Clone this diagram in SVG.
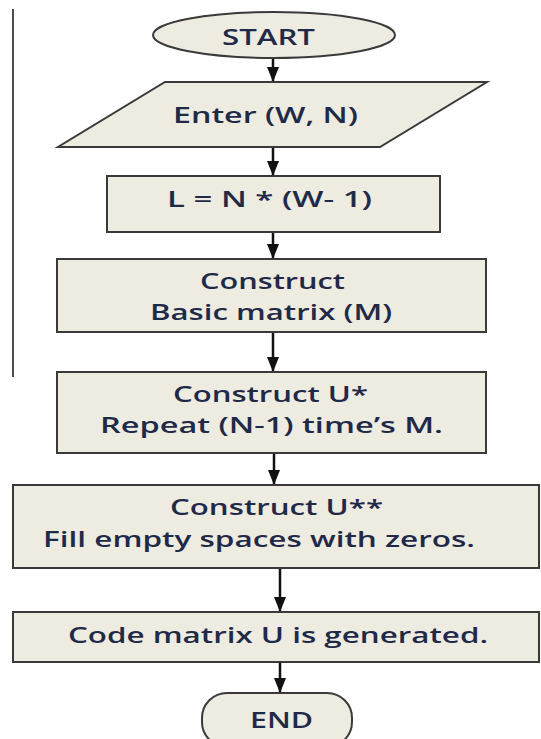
<svg xmlns="http://www.w3.org/2000/svg" width="541" height="739" viewBox="0 0 541 739">
<style>
.shape{fill:#eeece1;stroke:#3a3a3a;stroke-width:2}
.lbl{font-family:"Open Sans","Liberation Sans",sans-serif;font-size:21px;font-weight:600;fill:#1f2a48;lengthAdjust:spacingAndGlyphs}
.conn{stroke:#111;stroke-width:2.5;fill:none}
</style>
<defs>
<marker id="ah" markerUnits="userSpaceOnUse" markerWidth="16" markerHeight="12" refX="15" refY="6" orient="auto">
<path d="M0,0 L15,6 L0,12 Z" fill="#111"/>
</marker>
</defs>
<rect width="541" height="739" fill="#fff"/>
<line x1="13" y1="9" x2="13" y2="377" stroke="#111" stroke-width="1.5"/>
<g id="connectors">
<line class="conn" x1="273" y1="58" x2="273" y2="82" marker-end="url(#ah)"/>
<line class="conn" x1="273" y1="147" x2="273" y2="176" marker-end="url(#ah)"/>
<line class="conn" x1="273" y1="232" x2="273" y2="259" marker-end="url(#ah)"/>
<line class="conn" x1="273" y1="332" x2="273" y2="372" marker-end="url(#ah)"/>
<line class="conn" x1="274" y1="453" x2="274" y2="485" marker-end="url(#ah)"/>
<line class="conn" x1="280" y1="568" x2="280" y2="612" marker-end="url(#ah)"/>
<line class="conn" x1="280" y1="662" x2="280" y2="693" marker-end="url(#ah)"/>
</g>
<g id="start">
<ellipse class="shape" cx="274" cy="35" rx="121" ry="23"/>
<text class="lbl" x="222" y="45" textLength="93" lengthAdjust="spacingAndGlyphs">START</text>
</g>
<g id="input">
<polygon class="shape" points="165,82 487,82 380,147 58,147"/>
<text class="lbl" x="173" y="123" textLength="185" lengthAdjust="spacingAndGlyphs">Enter (W, N)</text>
</g>
<g id="calcL">
<rect class="shape" x="107" y="176" width="333" height="56"/>
<text class="lbl" x="167" y="207" textLength="205" lengthAdjust="spacingAndGlyphs">L = N * (W- 1)</text>
</g>
<g id="basic">
<rect class="shape" x="57" y="259" width="429" height="73"/>
<text class="lbl" x="200" y="289" textLength="145" lengthAdjust="spacingAndGlyphs">Construct</text>
<text class="lbl" x="150" y="320" textLength="242" lengthAdjust="spacingAndGlyphs">Basic matrix (M)</text>
</g>
<g id="ustar">
<rect class="shape" x="57" y="372" width="429" height="81"/>
<text class="lbl" x="173" y="402" textLength="195" lengthAdjust="spacingAndGlyphs">Construct U*</text>
<text class="lbl" x="100" y="433" textLength="343" lengthAdjust="spacingAndGlyphs">Repeat (N-1) time’s M.</text>
</g>
<g id="ustarstar">
<rect class="shape" x="13" y="485" width="526" height="83"/>
<text class="lbl" x="170" y="515" textLength="213" lengthAdjust="spacingAndGlyphs">Construct U**</text>
<text class="lbl" x="43" y="547" textLength="432" lengthAdjust="spacingAndGlyphs">Fill empty spaces with zeros.</text>
</g>
<g id="code">
<rect class="shape" x="13" y="612" width="526" height="50"/>
<text class="lbl" x="68" y="643" textLength="420" lengthAdjust="spacingAndGlyphs">Code matrix U is generated.</text>
</g>
<g id="end">
<rect class="shape" x="202" y="693" width="150" height="54" rx="25" ry="25"/>
<text class="lbl" x="250" y="728" textLength="63" lengthAdjust="spacingAndGlyphs">END</text>
</g>
</svg>
